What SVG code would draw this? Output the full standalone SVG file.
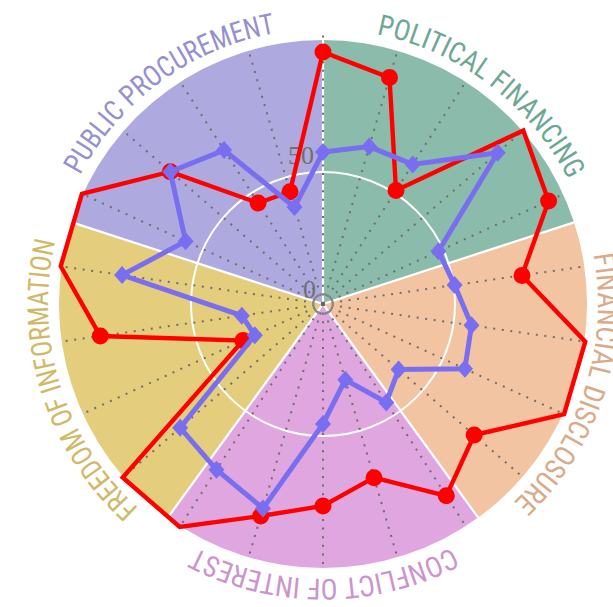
<svg xmlns="http://www.w3.org/2000/svg" xmlns:xlink="http://www.w3.org/1999/xlink" width="613" height="607" viewBox="0 0 613 607">
<style>
.sep{stroke:#fff;stroke-width:2.2;fill:none}
.ax{stroke:#6e6e6e;stroke-width:2;stroke-dasharray:2 6.6;fill:none}
.lbl{font-family:"Roboto Condensed","Liberation Sans Narrow",Roboto,"Liberation Sans",sans-serif;font-size:29px}
.num{font-family:"Liberation Serif",serif;font-size:26px;fill:#707070}
.red{fill:none;stroke:#ff0000;stroke-width:4.4;stroke-linejoin:miter}
.blue{fill:none;stroke:#7a6ef0;stroke-width:5;stroke-linejoin:miter}
.rd{fill:#ff0000}
.bd{fill:#7a6ef0}
</style>
<defs>
<path id="lp" d="M323,29 A275,275 0 0,1 323,579 A275,275 0 0,1 323,29"/>
<polygon id="dm" points="0,-9 8,0 0,9 -8,0"/>
</defs>
<rect width="613" height="607" fill="#fff"/>

<g id="political-financing">
<path d="M323,304 L323,40 A264,264 0 0,1 574.1,222.4 Z" fill="#8bbcab"/>
<text class="lbl" fill="#6fa795"><textPath xlink:href="#lp" startOffset="54" textLength="249" lengthAdjust="spacingAndGlyphs">POLITICAL FINANCING</textPath></text>
</g>
<g id="financial-disclosure">
<path d="M323,304 L574.1,222.4 A264,264 0 0,1 478.2,517.6 Z" fill="#f3c4a1"/>
<text class="lbl" fill="#d9ab8b"><textPath xlink:href="#lp" startOffset="382" textLength="271" lengthAdjust="spacingAndGlyphs">FINANCIAL DISCLOSURE</textPath></text>
</g>
<g id="conflict-of-interest">
<path d="M323,304 L478.2,517.6 A264,264 0 0,1 167.8,517.6 Z" fill="#dfa6df"/>
<text class="lbl" fill="#cc94cc"><textPath xlink:href="#lp" startOffset="729.6" textLength="266" lengthAdjust="spacingAndGlyphs">CONFLICT OF INTEREST</textPath></text>
</g>
<g id="freedom-of-information">
<path d="M323,304 L167.8,517.6 A264,264 0 0,1 71.9,222.4 Z" fill="#e4cd7c"/>
<text class="lbl" fill="#d0b968"><textPath xlink:href="#lp" startOffset="1065.6" textLength="293" lengthAdjust="spacingAndGlyphs">FREEDOM OF INFORMATION</textPath></text>
</g>
<g id="public-procurement">
<path d="M323,304 L71.9,222.4 A264,264 0 0,1 323,40 Z" fill="#aea9df"/>
<text class="lbl" fill="#9690d0"><textPath xlink:href="#lp" startOffset="1429" textLength="250" lengthAdjust="spacingAndGlyphs">PUBLIC PROCUREMENT</textPath></text>
</g>

<g id="grid">
<line class="sep" x1="323" y1="304" x2="323" y2="40"/>
<line class="sep" x1="323" y1="304" x2="574.1" y2="222.4"/>
<line class="sep" x1="323" y1="304" x2="478.2" y2="517.6"/>
<line class="sep" x1="323" y1="304" x2="167.8" y2="517.6"/>
<line class="sep" x1="323" y1="304" x2="71.9" y2="222.4"/>
<circle cx="323" cy="304" r="132" fill="none" stroke="#fff" stroke-width="2"/>
<line class="ax" x1="323" y1="304" x2="323" y2="34"/>
<line class="ax" x1="323" y1="304" x2="397.4" y2="50.7"/>
<line class="ax" x1="323" y1="304" x2="465.7" y2="81.9"/>
<line class="ax" x1="323" y1="304" x2="522.5" y2="131.1"/>
<line class="ax" x1="323" y1="304" x2="563.1" y2="194.3"/>
<line class="ax" x1="323" y1="304" x2="584.3" y2="266.4"/>
<line class="ax" x1="323" y1="304" x2="584.3" y2="341.6"/>
<line class="ax" x1="323" y1="304" x2="563.1" y2="413.7"/>
<line class="ax" x1="323" y1="304" x2="522.5" y2="476.9"/>
<line class="ax" x1="323" y1="304" x2="465.7" y2="526.1"/>
<line class="ax" x1="323" y1="304" x2="397.4" y2="557.3"/>
<line class="ax" x1="323" y1="304" x2="323" y2="568"/>
<line class="ax" x1="323" y1="304" x2="248.6" y2="557.3"/>
<line class="ax" x1="323" y1="304" x2="180.3" y2="526.1"/>
<line class="ax" x1="323" y1="304" x2="123.5" y2="476.9"/>
<line class="ax" x1="323" y1="304" x2="82.9" y2="413.7"/>
<line class="ax" x1="323" y1="304" x2="61.7" y2="341.6"/>
<line class="ax" x1="323" y1="304" x2="61.7" y2="266.4"/>
<line class="ax" x1="323" y1="304" x2="82.9" y2="194.3"/>
<line class="ax" x1="323" y1="304" x2="123.5" y2="131.1"/>
<line class="ax" x1="323" y1="304" x2="180.3" y2="81.9"/>
<line class="ax" x1="323" y1="304" x2="248.6" y2="50.7"/>
<circle cx="323" cy="304" r="10" fill="none" stroke="#888" stroke-width="1.6"/>
<circle cx="323" cy="304" r="2.2" fill="#666"/>
<text class="num" x="316" y="298" text-anchor="end">0</text>
<text class="num" x="314" y="164" text-anchor="end">50</text>
</g>

<g id="series-red">
<polygon class="red" points="323,52 389.5,77.6 396,190.4 523.3,130.5 548.6,201 522,275.4 585.3,341.7 564.1,414.1 474.2,435 446.3,495.8 374,477.7 323,506 260.7,516 179.7,526.9 122.7,477.5 243,340.6 100.3,336 60.7,266.3 81.9,193.9 170.3,171.7 258.1,203 290,191.7"/>
<circle class="rd" cx="323" cy="52" r="8.5"/>
<circle class="rd" cx="389.5" cy="77.6" r="8.5"/>
<circle class="rd" cx="396" cy="190.4" r="8.5"/>
<circle class="rd" cx="548.6" cy="201" r="8.5"/>
<circle class="rd" cx="522" cy="275.4" r="8.5"/>
<circle class="rd" cx="474.2" cy="435" r="8.5"/>
<circle class="rd" cx="446.3" cy="495.8" r="8.5"/>
<circle class="rd" cx="374" cy="477.7" r="8.5"/>
<circle class="rd" cx="323" cy="506" r="8.5"/>
<circle class="rd" cx="260.7" cy="516" r="8.5"/>
<circle class="rd" cx="243" cy="340.6" r="8.5"/>
<circle class="rd" cx="100.3" cy="336" r="8.5"/>
<circle class="rd" cx="170.3" cy="171.7" r="8.5"/>
<circle class="rd" cx="258.1" cy="203" r="8.5"/>
<circle class="rd" cx="290" cy="191.7" r="8.5"/>
</g>

<g id="series-blue">
<polygon class="blue" points="323,152 369.2,146.6 412.7,164.4 497.6,152.7 438.5,251.2 454.6,285.1 471.5,325.3 464.9,368.8 398.6,369.5 386.3,402.4 345.3,379.8 323,424 263,508.4 216.5,469.7 180.2,427.8 254.8,335.2 241.8,315.7 122.1,275.1 185.6,241.3 170.3,171.7 224.1,150.1 294.5,207.1"/>
<use href="#dm" class="bd" x="323" y="152"/>
<use href="#dm" class="bd" x="369.2" y="146.6"/>
<use href="#dm" class="bd" x="412.7" y="164.4"/>
<use href="#dm" class="bd" x="497.6" y="152.7"/>
<use href="#dm" class="bd" x="438.5" y="251.2"/>
<use href="#dm" class="bd" x="454.6" y="285.1"/>
<use href="#dm" class="bd" x="471.5" y="325.3"/>
<use href="#dm" class="bd" x="464.9" y="368.8"/>
<use href="#dm" class="bd" x="398.6" y="369.5"/>
<use href="#dm" class="bd" x="386.3" y="402.4"/>
<use href="#dm" class="bd" x="345.3" y="379.8"/>
<use href="#dm" class="bd" x="323" y="424"/>
<use href="#dm" class="bd" x="263" y="508.4"/>
<use href="#dm" class="bd" x="216.5" y="469.7"/>
<use href="#dm" class="bd" x="180.2" y="427.8"/>
<use href="#dm" class="bd" x="254.8" y="335.2"/>
<use href="#dm" class="bd" x="241.8" y="315.7"/>
<use href="#dm" class="bd" x="122.1" y="275.1"/>
<use href="#dm" class="bd" x="185.6" y="241.3"/>
<use href="#dm" class="bd" x="170.3" y="171.7"/>
<use href="#dm" class="bd" x="224.1" y="150.1"/>
<use href="#dm" class="bd" x="294.5" y="207.1"/>
</g>
</svg>
